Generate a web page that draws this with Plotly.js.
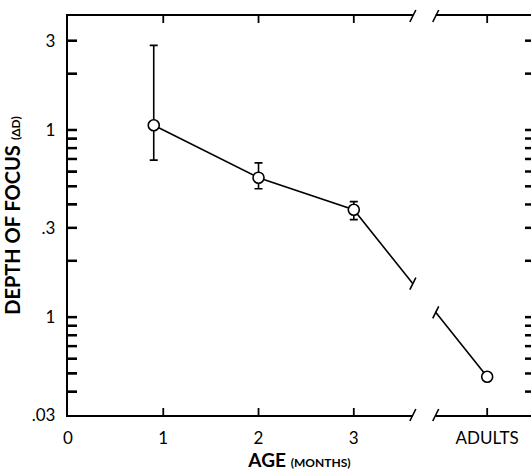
<!DOCTYPE html>
<html><head><meta charset="utf-8">
<script src="https://cdn.plot.ly/plotly-3.0.1.min.js"></script>
<style>html,body{margin:0;padding:0;background:#fff;overflow:hidden}</style>
</head><body><div id="chart" style="width:531px;height:471px"></div>
<script>
// ---- data ----
const ages = [0.9, 2, 3];
const depth = [1.06, 0.556, 0.375];
const errHigh = [2.83, 0.667, 0.414];
const errLow = [0.69, 0.485, 0.332];
const adultAge = [4.4];
const adultDepth = [0.048];
const xTickVals = [0, 1, 2, 3, 4.4];
const xTickText = ['0', '1', '2', '3', 'ADULTS'];
const yMajorVals = [3, 1, 0.3, 0.1, 0.03];
const yMajorText = ['3', '1', '.3', '1', '.03'];
const yMinorVals = [2, 0.9, 0.8, 0.7, 0.6, 0.5, 0.4, 0.2, 0.09, 0.08, 0.07, 0.06, 0.05, 0.04];
const breakStart = 3.62, breakEnd = 3.86;

// ---- helpers ----
const yRange = [Math.log10(0.03), 0.609];
const toPaper = v => (Math.log10(v) - yRange[0]) / (yRange[1] - yRange[0]);
const lastX = ages[ages.length - 1], lastY = depth[depth.length - 1];
const lineAt = x => {
  const t = (x - lastX) / (adultAge[0] - lastX);
  return Math.pow(10, Math.log10(lastY) + t * (Math.log10(adultDepth[0]) - Math.log10(lastY)));
};
const font = 'Lato, "DejaVu Sans", sans-serif';
const ink = '#000';

const traces = [
  {x: ages.concat(adultAge), y: depth.concat(adultDepth), mode: 'lines',
   line: {color: ink, width: 1.6}, hoverinfo: 'skip'},
  {x: ages, y: depth, mode: 'markers',
   marker: {symbol: 'circle', size: 11, color: '#fff', line: {color: ink, width: 1.6}},
   error_y: {type: 'data', symmetric: false,
     array: errHigh.map((v, i) => v - depth[i]),
     arrayminus: depth.map((v, i) => v - errLow[i]),
     color: ink, thickness: 1.6, width: 4}},
  {x: adultAge, y: adultDepth, mode: 'markers',
   marker: {symbol: 'circle', size: 11, color: '#fff', line: {color: ink, width: 1.6}}}
];

function slash(xa, ya) {
  return {type: 'line', xref: 'x', yref: 'paper', xsizemode: 'pixel', ysizemode: 'pixel',
    xanchor: xa, yanchor: ya, x0: -3, x1: 3, y0: -6, y1: 6,
    line: {color: ink, width: 1.6}, layer: 'above'};
}
// inside tick marks (left/right for y, bottom/top for x)
function yTick(v, side, len) {
  const p = toPaper(v);
  return {type: 'line', xref: 'paper', yref: 'paper', xsizemode: 'pixel', xanchor: side,
    x0: 0, x1: side === 0 ? len : -len, y0: p, y1: p,
    line: {color: ink, width: 2.5}, layer: 'above'};
}
function xTick(v, side, len) {
  return {type: 'line', xref: 'x', yref: 'paper', ysizemode: 'pixel', yanchor: side,
    x0: v, x1: v, y0: 0, y1: side === 0 ? len : -len,
    line: {color: ink, width: 1.8}, layer: 'above'};
}

const yAll = yMajorVals.concat(yMinorVals).filter(v => v > 0.031);
const shapes = [].concat(
  yAll.map(v => yTick(v, 0, 9)),
  yAll.map(v => yTick(v, 1, 6)),
  xTickVals.filter(v => v > 0).map(v => xTick(v, 0, 7)),
  xTickVals.filter(v => v > 0).map(v => xTick(v, 1, 7)),
  [{type: 'rect', xref: 'x', yref: 'paper', x0: breakStart, x1: breakEnd, y0: -0.025, y1: 1.025,
    fillcolor: '#fff', line: {width: 0}, layer: 'above'},
   slash(breakStart, 0), slash(breakEnd, 0), slash(breakStart, 1), slash(breakEnd, 1),
   slash(breakStart, toPaper(lineAt(breakStart))), slash(breakEnd, toPaper(lineAt(breakEnd)))]
);

const layout = {
  width: 531, height: 471,
  margin: {l: 68, r: 0, t: 16, b: 56},
  paper_bgcolor: '#fff', plot_bgcolor: '#fff',
  showlegend: false,
  font: {family: font, color: ink, size: 17},
  xaxis: {range: [0, 4.86], tickmode: 'array', tickvals: xTickVals, ticktext: xTickText,
    ticks: '', ticklabelstandoff: 6,
    showline: true, linewidth: 2.2, linecolor: ink, mirror: true,
    showgrid: false, zeroline: false, tickfont: {size: 17},
    title: {text: '<b>AGE</b> <b><span style="font-size:12px">(MONTHS)</span></b>',
      font: {size: 19}, standoff: 12}},
  yaxis: {type: 'log', range: yRange, tickmode: 'array',
    tickvals: yMajorVals.concat(yMinorVals), ticktext: yMajorText.concat(yMinorVals.map(() => '')),
    ticks: 'inside', ticklen: 9, tickwidth: 2, tickcolor: ink, ticklabelstandoff: 7,
    showline: true, linewidth: 2.2, linecolor: ink, mirror: false,
    showgrid: false, zeroline: false, tickfont: {size: 17},
    title: {text: '<b>DEPTH OF FOCUS</b> <b><span style="font-size:12px">(ΔD)</span></b>',
      font: {size: 20}, standoff: 8}},
  shapes: shapes
};

Plotly.newPlot('chart', traces, layout, {staticPlot: true, displayModeBar: false});
</script>
</body></html>
